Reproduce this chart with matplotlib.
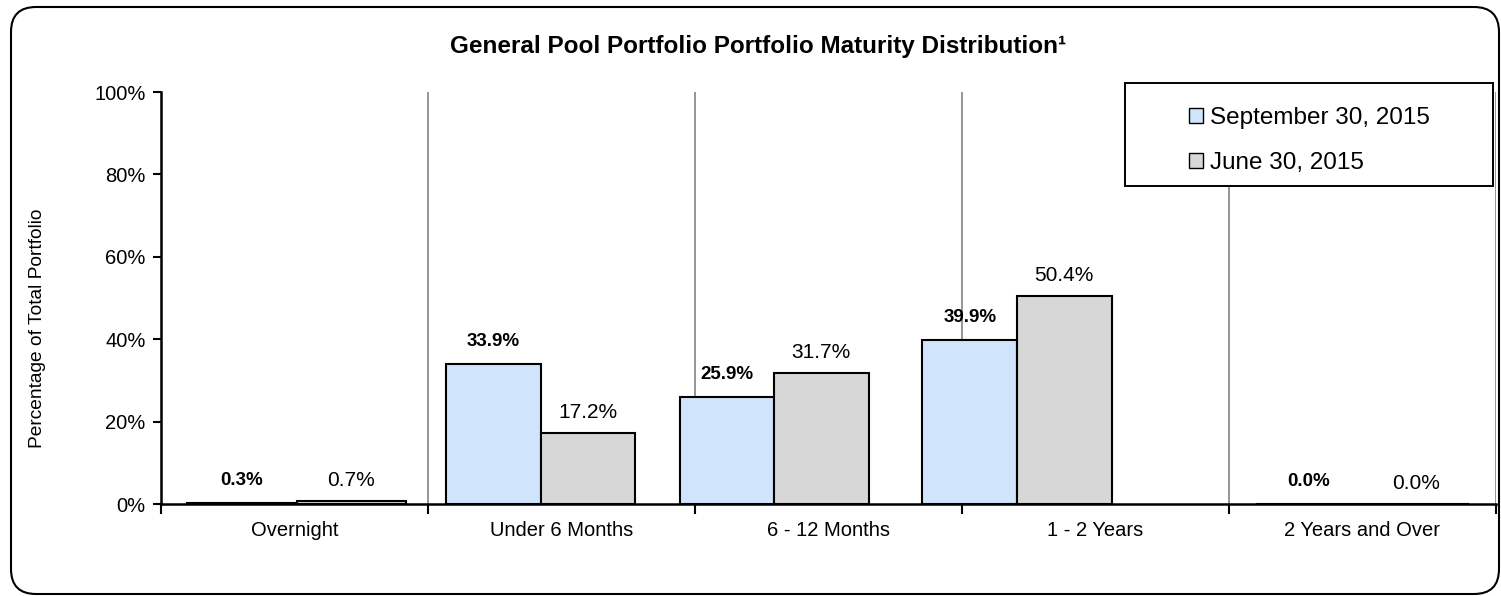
import matplotlib.pyplot as plt
import numpy as np
from matplotlib.patches import FancyBboxPatch, Rectangle

plt.rcParams['font.family'] = ['Liberation Sans', 'DejaVu Sans']

categories = ['Overnight', 'Under 6 Months', '6 - 12 Months', '1 - 2 Years', '2 Years and Over']
sep_2015 = [0.3, 33.9, 25.9, 39.9, 0.0]
jun_2015 = [0.7, 17.2, 31.7, 50.4, 0.0]
series_names = ['September 30, 2015', 'June 30, 2015']
y_ticks = [0, 20, 40, 60, 80, 100]

# layout of the bar pairs inside each category slot (the source is uneven)
group_shift = [0.008, -0.077, -0.204, -0.294, 0.0]
bar_width = [0.41, 0.354, 0.354, 0.354, 0.40]

blue = '#d0e5fb'
grey = '#d7d7d7'

fig = plt.figure(figsize=(15.01, 5.96), dpi=100)
ax = fig.add_axes([161 / 1501, 1 - 504 / 596, (1496 - 161) / 1501, (504 - 92) / 596])

x = np.arange(len(categories)) + 0.5 + np.array(group_shift)
w = np.array(bar_width)
b1 = ax.bar(x - w / 2, sep_2015, width=w, color=blue, edgecolor='black', linewidth=1.5, zorder=3)
b2 = ax.bar(x + w / 2, jun_2015, width=w, color=grey, edgecolor='black', linewidth=1.5, zorder=3)

for xi, v in zip(x - w / 2, sep_2015):
    ax.annotate(f'{v:.1f}%', (xi, v), xytext=(0, 10), textcoords='offset points',
                ha='center', va='bottom', fontsize=13.5, fontweight='bold')
for xi, v in zip(x + w / 2, jun_2015):
    ax.annotate(f'{v:.1f}%', (xi, v), xytext=(0, 8), textcoords='offset points',
                ha='center', va='bottom', fontsize=15)

ax.set_xlim(0, len(categories))
ax.set_ylim(0, 100)
ax.set_yticks(y_ticks)
ax.set_yticklabels([f'{t}%' for t in y_ticks], fontsize=14.5)
ax.set_xticks(np.arange(len(categories) + 1))
ax.set_xticklabels([])
ax.set_xticks(np.arange(len(categories)) + 0.5, minor=True)
ax.set_xticklabels(categories, minor=True, fontsize=14.5)
ax.tick_params(axis='x', which='minor', length=0, pad=12)
ax.tick_params(axis='x', which='major', length=7, width=1.5, direction='out')
ax.tick_params(axis='y', length=6, width=1.5, pad=5)

for xv in range(1, len(categories) + 1):
    ax.axvline(xv, color='#8c8c8c', linewidth=1.3, zorder=1)

for s in ['top', 'right']:
    ax.spines[s].set_visible(False)
for s in ['left', 'bottom']:
    ax.spines[s].set_linewidth(1.8)
ax.spines['bottom'].set_zorder(4)

ax.set_ylabel('Percentage of Total Portfolio', fontsize=13.8)
ax.yaxis.set_label_coords(46 / 1501, 1 - 328 / 596, transform=fig.transFigure)

fig.text(758 / 1501, 1 - 47 / 596, 'General Pool Portfolio Portfolio Maturity Distribution\u00b9',
         ha='center', va='center', fontsize=17.5, fontweight='bold')

# legend box
fig.patches.append(Rectangle((1125 / 1501, 1 - 186 / 596), (1493 - 1125) / 1501, (186 - 83) / 596,
                             transform=fig.transFigure, facecolor='white', edgecolor='black',
                             linewidth=1.4, zorder=5))
leg = fig.legend([b1, b2], series_names, loc='upper left',
                 bbox_to_anchor=(1167 / 1501, 1 - 85 / 596), frameon=False, fontsize=17.5,
                 handlelength=0.6, handleheight=0.6, handletextpad=0.25, labelspacing=0.95)
leg.set_zorder(6)
for h in leg.legend_handles:
    h.set_linewidth(1.0)

# rounded outer frame
fig.patches.append(FancyBboxPatch((0.11, 0.02), 14.88, 5.87, boxstyle='round,pad=0,rounding_size=0.25',
                                  transform=fig.dpi_scale_trans, facecolor='none', edgecolor='black',
                                  linewidth=1.5))

fig.savefig('out.png', dpi=100)
